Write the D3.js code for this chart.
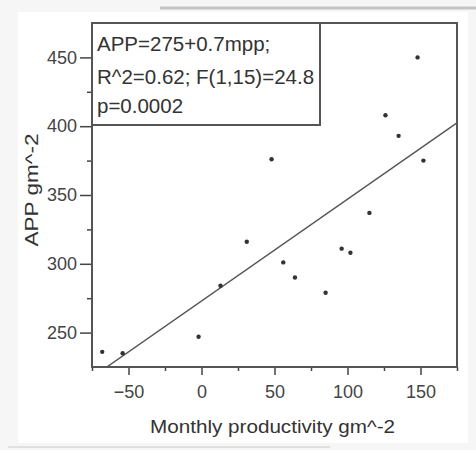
<!DOCTYPE html>
<meta charset="utf-8">
<head>
  <script src="https://cdn.jsdelivr.net/npm/d3@7"></script>
  <style>
    body { margin: 0; background: #f6f6f6; }
    text { font-family: "Liberation Sans", Arial, sans-serif; fill: #333; }
    .axis path, .axis line { stroke: #444; }
    .axis text { font-size: 18px; fill: #444; }
  </style>
</head>
<body>
<script>

// data
var mpp = [148, 126, 135, 48, 152, 115, 31, 96, 102, 56, 64, 85, 13, -2, -68, -54];
var app = [450, 408, 393, 376, 375, 337, 316, 311, 308, 301, 290, 279, 284, 247, 236, 235];
var xTicks = [-50, 0, 50, 100, 150];
var xMinor = [-75, -25, 25, 75, 125, 175];
var yTicks = [250, 300, 350, 400, 450];
var yMinor = [275, 325, 375, 425];
var fitLine = {intercept: 273, slope: 0.74};
var statLines = ["APP=275+0.7mpp;", "R^2=0.62; F(1,15)=24.8", "p=0.0002"];

var W = 476, H = 450;
var margin = {top: 23, right: 19, bottom: 83, left: 92};

var svg = d3.select("body").append("svg")
    .attr("width", W)
    .attr("height", H);

// scan paper look
svg.append("rect").attr("x", 18).attr("y", 12).attr("width", 450).attr("height", 431).attr("fill", "#fff");
svg.append("line").attr("x1", 160).attr("x2", 476).attr("y1", 8).attr("y2", 8)
    .attr("stroke", "#c4c4c4").attr("stroke-width", 3);
svg.append("line").attr("x1", 8).attr("x2", 330).attr("y1", 447).attr("y2", 447)
    .attr("stroke", "#e0e0e0").attr("stroke-width", 2);

var x = d3.scaleLinear().domain([-75, 175]).range([margin.left, W - margin.right]);
var y = d3.scaleLinear().domain([225, 475]).range([H - margin.bottom, margin.top]);

var x0 = x.range()[0], x1 = x.range()[1], y0 = y.range()[0], y1 = y.range()[1];

// minor ticks
svg.append("g").attr("class", "axis")
    .attr("transform", "translate(0," + y0 + ")")
    .call(d3.axisBottom(x).tickValues(xMinor).tickSize(4).tickSizeOuter(0).tickFormat(""))
    .call(function(g) { g.select(".domain").remove(); })
    .selectAll("line").attr("stroke-width", 1.5);
svg.append("g").attr("class", "axis")
    .attr("transform", "translate(" + x0 + ",0)")
    .call(d3.axisLeft(y).tickValues(yMinor).tickSize(5).tickSizeOuter(0).tickFormat(""))
    .call(function(g) { g.select(".domain").remove(); })
    .selectAll("line").attr("stroke-width", 1.5);

// major ticks + labels
var xa = svg.append("g").attr("class", "axis")
    .attr("transform", "translate(0," + y0 + ")")
    .call(d3.axisBottom(x).tickValues(xTicks).tickSize(8).tickPadding(10).tickSizeOuter(0));
xa.select(".domain").remove();
xa.selectAll("line").attr("stroke-width", 1.5);

var ya = svg.append("g").attr("class", "axis")
    .attr("transform", "translate(" + x0 + ",0)")
    .call(d3.axisLeft(y).tickValues(yTicks).tickSize(12).tickPadding(3).tickSizeOuter(0));
ya.select(".domain").remove();
ya.selectAll("line").attr("stroke-width", 1.5);

// plot frame
svg.append("rect")
    .attr("x", x0).attr("y", y1)
    .attr("width", x1 - x0).attr("height", y0 - y1)
    .attr("fill", "none").attr("stroke", "#555").attr("stroke-width", 2);

// fitted line, clipped to the plot
svg.append("clipPath").attr("id", "plotclip")
  .append("rect").attr("x", x0).attr("y", y1).attr("width", x1 - x0).attr("height", y0 - y1);

var lineX = [(225 - fitLine.intercept) / fitLine.slope, 175];
svg.append("line")
    .attr("clip-path", "url(#plotclip)")
    .attr("x1", x(lineX[0])).attr("y1", y(fitLine.intercept + fitLine.slope * lineX[0]))
    .attr("x2", x(lineX[1])).attr("y2", y(fitLine.intercept + fitLine.slope * lineX[1]))
    .attr("stroke", "#555").attr("stroke-width", 1.5);

// points
svg.selectAll("circle.pt")
    .data(mpp)
  .enter().append("circle")
    .attr("class", "pt")
    .attr("cx", function(d) { return x(d); })
    .attr("cy", function(d, i) { return y(app[i]); })
    .attr("r", 2.2)
    .attr("fill", "#333");

// stats box
svg.append("rect")
    .attr("x", x0).attr("y", y1)
    .attr("width", 228).attr("height", 102)
    .attr("fill", "#fff").attr("stroke", "#555").attr("stroke-width", 2);

var statY = [51, 84, 113];
svg.selectAll("text.stat")
    .data(statLines)
  .enter().append("text")
    .attr("class", "stat")
    .attr("x", x0 + 5)
    .attr("y", function(d, i) { return statY[i]; })
    .style("font-size", "20.5px")
    .text(function(d) { return d; });

// axis titles
svg.append("text")
    .attr("x", (x0 + x1) / 2 - 2)
    .attr("y", 433)
    .attr("text-anchor", "middle")
    .attr("textLength", 245)
    .attr("lengthAdjust", "spacingAndGlyphs")
    .style("font-size", "18px")
    .text("Monthly productivity gm^-2");

svg.append("text")
    .attr("transform", "translate(38,190) rotate(-90)")
    .attr("text-anchor", "middle")
    .attr("textLength", 113)
    .attr("lengthAdjust", "spacingAndGlyphs")
    .style("font-size", "18px")
    .text("APP gm^-2");

</script>
</body>
